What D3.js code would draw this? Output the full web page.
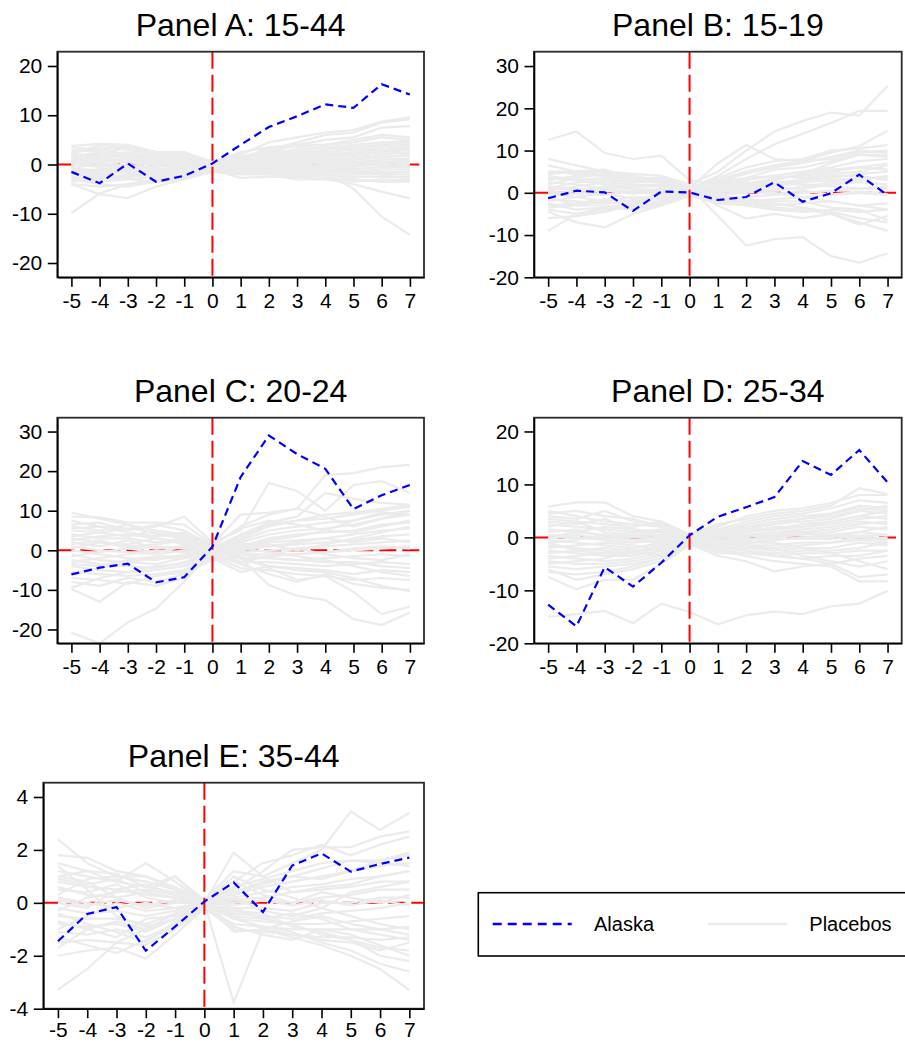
<!DOCTYPE html>
<html lang="en">
<head>
<meta charset="UTF-8">
<title>Placebo event-study panels</title>
<script src="https://d3js.org/d3.v7.min.js"></script>
<style>
  body { margin: 0; background: #fff; }
  svg { display: block; font-family: "Liberation Sans", Arial, sans-serif; }
  .axis text { font-size: 21px; fill: #000; }
  .axis line, .axis path { stroke: #000; stroke-width: 1.6px; }
</style>
</head>
<body>
<svg id="chart" width="905" height="1042"></svg>
<script>
const years = [-5, -4, -3, -2, -1, 0, 1, 2, 3, 4, 5, 6, 7];

const alaskaA = [-1.5, -3.8, 0.2, -3.5, -2.3, 0.2, 4.0, 7.6, 9.8, 12.2, 11.5, 16.3, 14.2];
const alaskaB = [-1.3, 0.5, 0.1, -4.3, 0.3, 0.1, -1.7, -1.0, 2.5, -2.1, -0.1, 4.3, -0.6];
const alaskaC = [-6.1, -4.4, -3.4, -8.1, -6.8, 0.9, 18.5, 29.0, 24.3, 20.6, 10.4, 13.9, 16.5];
const alaskaD = [-12.7, -16.8, -5.6, -9.3, -4.8, 0.4, 3.9, 5.7, 7.6, 14.4, 11.8, 16.5, 10.4];
const alaskaE = [-1.45, -0.42, -0.16, -1.81, -0.9, 0.05, 0.77, -0.35, 1.41, 1.87, 1.18, 1.47, 1.71];

const placebosA = [
  [3.8, 4.2, 4.0, 2.5, 1.5, 0.5, 2.0, 4.5, 5.5, 6.5, 7.0, 8.7, 9.6],
  [2.5, 3.5, 3.0, 2.0, 2.5, 0.3, 1.5, 3.0, 4.5, 6.0, 6.5, 8.5, 9.2],
  [1.5, 2.0, 2.5, 1.5, 1.0, -0.2, 1.0, 2.5, 4.0, 5.0, 5.5, 7.5, 7.8],
  [-1.0, 0.5, 1.0, 0.5, 0.0, 0.0, 1.0, 3.5, 4.0, 4.0, 4.5, 5.5, 5.0],
  [0.5, 1.0, 0.5, 0.0, -0.5, -0.3, 0.5, 2.0, 3.0, 3.5, 4.0, 4.5, 4.8],
  [-2.0, -1.5, -1.0, -1.5, -1.0, -0.5, 0.0, 1.0, 2.0, 3.0, 3.5, 4.0, 4.2],
  [2.0, 1.5, 2.0, 1.0, 1.8, 0.5, 0.5, 1.5, 2.5, 2.5, 3.0, 3.5, 3.8],
  [3.0, 2.5, 1.5, 1.5, 0.5, 0.2, 0.0, 1.0, 1.5, 2.0, 2.5, 3.0, 3.5],
  [-3.5, -3.0, -2.5, -2.0, -1.5, -0.8, -0.5, 0.5, 1.0, 1.5, 2.0, 2.5, 3.0],
  [1.0, 0.0, -1.0, -0.5, 0.5, 0.0, -0.5, 0.0, 0.5, 1.0, 1.5, 2.0, 2.5],
  [-1.5, -2.0, -2.5, -1.5, -1.0, -0.5, -1.0, -0.5, 0.0, 0.5, 1.0, 1.5, 2.0],
  [2.5, 3.0, 2.0, 1.0, 1.0, 0.5, 0.5, 0.5, 0.0, 0.5, 0.5, 1.0, 1.2],
  [-2.5, -3.5, -3.0, -2.5, -2.0, -1.0, -1.5, -1.0, -0.5, 0.0, 0.0, 0.5, 0.8],
  [0.0, -0.5, 0.0, -1.0, -1.5, -0.5, -1.0, -1.5, -1.0, -0.5, -0.5, 0.0, 0.0],
  [1.5, 1.0, 0.5, 0.0, 0.0, 0.2, -0.5, -1.0, -1.5, -1.0, -1.0, -0.5, -0.5],
  [-4.0, -4.5, -4.0, -3.0, -2.5, -1.2, -1.5, -2.0, -1.5, -1.5, -2.0, -1.5, -1.5],
  [-3.0, -4.0, -4.5, -3.5, -2.5, -1.0, -2.7, -2.5, -2.5, -2.0, -2.5, -2.5, -2.5],
  [-1.0, -2.5, -3.0, -3.5, -3.0, -1.5, -2.0, -2.0, -3.0, -3.0, -3.0, -3.5, -3.5],
  [-9.9, -5.9, -4.0, -3.5, -2.5, -1.0, -1.5, -1.5, -2.0, -2.5, -3.5, -3.0, -3.2],
  [-4.0, -6.0, -6.8, -4.5, -3.0, -1.2, -1.0, -1.5, -2.0, -2.0, -3.0, -3.5, -3.0],
  [0.5, 2.0, 3.5, 2.5, 2.5, 0.5, 1.0, 1.0, 1.5, 2.5, 2.0, 2.5, 3.0],
  [2.0, 4.0, 3.5, 2.5, 1.5, 0.8, 1.5, 2.0, 2.5, 3.0, 3.5, 4.0, 4.5],
  [-0.5, 1.5, 2.0, 1.5, 2.0, 0.3, 0.5, 0.0, -0.5, -1.0, -1.5, -1.0, -1.0],
  [-2.0, -1.0, -0.5, 0.5, 1.0, 0.0, 0.5, 1.0, 1.5, 1.0, 0.5, 0.5, 0.5],
  [1.0, 1.5, 1.0, 0.5, 1.5, 0.2, 0.0, -0.5, 0.0, -0.5, -1.0, -2.0, -1.5],
  [-2.5, -3.0, -2.0, -2.0, -1.5, -0.5, -1.0, -1.0, -1.5, -1.8, -4.9, -10.6, -14.3],
  [-1.5, -1.0, -1.5, -1.0, -0.5, -0.3, -1.0, -1.5, -2.5, -3.0, -4.0, -5.5, -6.9],
  [3.5, 3.0, 3.5, 2.0, 2.0, 0.5, 2.5, 3.5, 3.5, 4.0, 5.0, 6.0, 5.5],
  [-3.0, -2.0, -1.5, -2.5, -2.0, -0.8, -0.5, -0.5, -1.0, -1.5, -2.0, -2.0, -3.0],
  [0.0, 0.5, 1.5, 2.0, 1.0, 0.0, 1.5, 2.5, 3.0, 3.5, 3.0, 3.0, 2.0],
  [0.8, 0.3, -0.3, 0.2, 0.3, 0.1, 0.3, 0.6, 0.8, 1.2, 1.0, 1.5, 1.8],
  [-0.8, -1.2, -0.8, -0.3, -0.5, -0.1, -0.3, -0.2, 0.3, 0.2, 0.3, -0.2, 0.3],
  [1.8, 2.3, 1.5, 0.8, 0.3, 0.1, 0.8, 1.3, 2.0, 1.8, 2.2, 2.8, 3.2],
  [-1.8, -2.8, -2.0, -1.0, -0.8, -0.6, -0.3, -0.8, -0.7, -1.2, -1.5, -2.0, -2.0],
  [0.3, -0.3, 0.8, -0.2, -0.3, -0.2, -0.2, 0.3, -0.2, -0.2, -0.3, 0.2, -0.3]
];

const placebosB = [
  [12.5, 14.5, 9.4, 8.0, 8.8, 3.0, 2.0, 1.5, 3.0, 4.5, 5.5, 6.0, 7.0],
  [8.0, 6.5, 5.0, 4.5, 4.0, 2.0, 5.0, 10.0, 14.5, 17.0, 19.0, 18.3, 25.3],
  [6.5, 5.0, 5.5, 3.5, 3.0, 1.0, 4.0, 8.0, 11.5, 14.0, 16.5, 19.4, 19.4],
  [5.0, 4.5, 4.0, 3.5, 3.5, 1.0, 7.0, 11.3, 8.0, 7.5, 9.5, 11.0, 14.7],
  [4.5, 5.0, 4.0, 3.0, 2.5, 0.5, 3.5, 6.0, 7.5, 8.0, 10.0, 10.5, 11.3],
  [3.5, 3.0, 3.5, 2.5, 3.5, 1.5, 2.5, 4.5, 6.0, 7.0, 8.5, 10.0, 9.5],
  [2.5, 2.0, 1.0, 1.5, 2.0, 0.5, 2.0, 3.5, 5.5, 6.0, 7.5, 9.0, 8.5],
  [1.5, 0.5, 1.0, 0.0, 1.0, 0.0, 1.5, 3.0, 4.0, 5.0, 6.0, 7.5, 8.0],
  [0.5, 1.5, 2.5, 2.0, 1.5, 0.8, 1.0, 2.0, 3.5, 4.0, 5.0, 6.0, 5.5],
  [-1.0, 0.0, -0.5, 0.5, 0.0, 0.2, 0.5, 1.5, 2.5, 3.0, 3.5, 4.5, 5.0],
  [-2.0, -1.0, -2.0, -1.0, -1.5, 0.0, 0.0, 1.0, 1.5, 2.5, 3.0, 3.5, 3.5],
  [-3.0, -2.5, -1.5, -2.0, -1.0, -0.5, -0.5, 0.0, 1.0, 1.0, 2.0, 2.5, 2.0],
  [-4.0, -5.0, -4.0, -3.0, -2.0, -0.5, -1.0, -1.0, -0.5, 0.0, 0.5, 1.0, 1.0],
  [-9.0, -5.0, -3.5, -2.5, -2.0, -0.3, -1.5, -2.0, -1.5, -1.0, -0.5, 0.0, -0.5],
  [-4.5, -7.0, -8.2, -5.0, -3.0, -0.8, -2.0, -2.5, -3.0, -2.5, -2.0, -3.0, -2.5],
  [-3.5, -3.0, -3.0, -3.5, -2.5, -0.5, -2.5, -3.0, -4.0, -4.5, -4.0, -4.5, -4.0],
  [-6.0, -5.5, -4.5, -3.0, -2.5, 0.5, -3.0, -6.1, -5.0, -6.0, -5.0, -7.0, -9.0],
  [2.0, 3.5, 4.5, 4.0, 3.0, 1.5, -5.5, -12.5, -11.0, -10.5, -15.0, -16.5, -14.3],
  [0.0, -1.0, 0.0, -1.5, -0.5, 0.0, -1.0, -2.0, -2.5, -3.5, -4.5, -6.0, -7.0],
  [1.0, 2.5, 3.0, 2.5, 2.5, 1.0, 1.0, 0.5, 0.0, -1.0, -2.0, -3.0, -4.0],
  [-1.5, -2.0, -2.5, -2.0, -2.0, -0.2, -1.5, -2.5, -3.5, -4.0, -5.0, -7.5, -5.5],
  [3.0, 4.0, 4.5, 3.5, 3.0, 1.0, 3.0, 5.0, 6.5, 7.5, 8.0, 9.5, 10.0],
  [5.0, 5.0, 5.0, 4.0, 2.5, 1.2, 2.5, 3.5, 4.0, 3.5, 4.5, 5.0, 6.5],
  [-0.5, 0.5, 1.5, 1.0, 0.5, 0.3, 0.5, 1.0, 0.5, 1.5, 2.5, 3.0, 4.0],
  [4.0, 3.0, 2.0, 1.5, 1.5, 0.5, 1.5, 2.5, 2.0, 3.0, 4.0, 4.0, 3.0],
  [-2.5, -4.0, -3.5, -4.0, -3.0, -0.5, -0.5, -1.5, -2.0, -2.0, -3.5, -4.0, -6.5],
  [1.5, 1.0, 0.5, 0.5, -0.5, 0.5, 1.5, 2.0, 3.0, 4.5, 7.0, 9.0, 9.0],
  [-1.0, -3.0, -2.0, -3.0, -2.5, -0.3, 0.5, 1.0, 2.0, 2.0, 1.5, 1.0, 1.5],
  [0.3, -0.3, 0.5, -0.2, 0.4, 0.1, -0.3, 0.3, -0.3, 0.5, -0.4, 0.3, -0.3]
];

const placebosC = [
  [-20.8, -23.5, -18.2, -14.7, -7.9, 0.0, -2.0, -1.5, -1.0, -0.5, 0.5, 1.0, 0.5],
  [9.5, 8.0, 6.5, 5.0, 4.0, 1.0, 6.0, 9.0, 10.5, 8.5, 6.0, 8.0, 10.0],
  [8.5, 8.3, 7.0, 7.0, 6.5, 1.5, 9.0, 9.5, 10.5, 19.0, 19.5, 21.0, 21.6],
  [7.5, 6.0, 5.5, 6.0, 8.5, 2.0, 5.0, 17.0, 15.0, 10.0, 16.5, 17.5, 14.5],
  [6.0, 5.0, 6.5, 4.0, 3.0, 0.5, 4.0, 7.0, 8.5, 14.5, 13.0, 12.0, 11.5],
  [5.0, 4.5, 3.5, 5.0, 4.0, 0.0, 3.0, 6.0, 7.5, 8.0, 9.0, 10.0, 11.0],
  [4.0, 3.0, 3.0, 2.0, 3.0, 1.0, 2.5, 5.0, 6.0, 7.0, 7.5, 9.0, 10.0],
  [3.0, 2.0, 1.0, 1.5, 2.5, 0.5, 2.0, 4.0, 5.0, 5.5, 6.5, 8.0, 9.0],
  [2.0, 1.0, 2.5, 0.5, 1.0, -0.5, 1.0, 3.0, 4.0, 4.5, 5.0, 6.5, 7.0],
  [1.0, 0.0, -0.5, -1.0, 0.0, 0.0, 1.5, 2.0, 2.5, 3.0, 4.0, 5.0, 5.5],
  [0.0, -1.0, -2.0, -2.5, -1.0, -0.5, 0.0, 1.0, 1.5, 2.0, 2.5, 3.5, 4.0],
  [-1.0, -2.5, -3.0, -2.0, -2.0, -1.0, -0.5, 0.0, 0.5, 1.0, 1.5, 2.0, 2.5],
  [-2.5, -3.5, -4.0, -4.5, -3.0, -0.5, -1.0, -1.0, -1.0, -0.5, 0.0, 0.5, 1.0],
  [-4.0, -5.0, -5.5, -5.0, -4.0, -1.5, -2.0, -2.0, -2.5, -2.0, -1.5, -1.0, -1.5],
  [-5.5, -6.0, -6.5, -6.0, -5.0, -1.0, -3.0, -3.0, -3.5, -4.0, -3.5, -3.0, -3.5],
  [-8.0, -9.0, -7.0, -8.0, -6.0, -2.0, -5.5, -4.0, -4.5, -5.0, -6.0, -5.0, -5.5],
  [-9.8, -13.0, -8.0, -9.0, -7.0, -1.5, -4.5, -5.0, -6.0, -6.5, -7.5, -7.0, -7.5],
  [-7.0, -7.5, -8.5, -6.5, -5.5, -2.5, -2.0, -4.0, -5.0, -5.5, -7.0, -9.0, -10.3],
  [0.5, 2.0, 1.5, 3.0, 2.0, 0.5, -1.5, -4.5, -7.5, -6.5, -10.5, -16.1, -14.2],
  [2.5, 3.5, 4.0, 3.0, 1.5, 0.0, -2.0, -8.8, -11.5, -12.6, -17.4, -18.9, -15.7],
  [-3.0, -2.0, -1.0, 0.0, -0.5, -0.5, 0.5, -0.5, -1.5, -2.5, -4.0, -5.5, -6.5],
  [6.5, 7.0, 5.0, 6.5, 5.0, 1.0, 0.5, 1.0, 2.0, 3.0, 2.0, 3.0, 2.0],
  [-6.0, -4.5, -3.0, -3.5, -2.0, -1.0, 1.0, 2.5, 3.5, 5.0, 7.5, 9.5, 9.0],
  [3.5, 4.5, 5.5, 4.5, 3.5, 0.5, 3.5, 6.5, 7.5, 9.0, 9.5, 10.5, 11.5],
  [-1.5, -0.5, 0.5, 1.0, 0.5, 0.0, -1.0, -2.0, -2.5, -3.0, -3.0, -4.0, -4.5],
  [1.5, 2.5, 0.5, -0.5, 1.0, 0.5, 1.0, 1.5, 0.0, 1.5, 3.0, 4.5, 6.0],
  [-3.5, -4.0, -2.5, -1.5, -1.5, -0.5, -3.0, -1.5, 0.5, -1.0, -2.0, -2.5, -1.0],
  [5.5, 6.0, 4.5, 3.5, 4.5, 1.5, 5.5, 7.5, 6.5, 5.0, 4.5, 6.0, 7.5],
  [-9.5, -7.0, -5.5, -4.0, -3.5, -1.0, -3.5, -6.0, -8.0, -6.0, -8.5, -9.5, -10.0]
];

const placebosD = [
  [-15.0, -14.5, -13.9, -16.2, -12.5, -14.1, -16.4, -14.7, -14.0, -14.5, -13.0, -12.5, -10.1],
  [5.8, 6.6, 6.6, 4.0, 3.0, 0.5, 2.5, 3.5, 4.5, 5.0, 6.0, 9.3, 8.2],
  [4.5, 5.0, 4.0, 3.5, 2.0, 0.3, 2.0, 4.0, 5.0, 5.5, 6.5, 8.0, 8.0],
  [3.5, 3.0, 2.5, 2.0, 3.0, 0.5, 1.5, 3.0, 4.0, 4.5, 5.5, 7.0, 6.5],
  [2.5, 2.0, 1.5, 1.0, 1.5, 0.0, 1.0, 2.5, 3.5, 4.0, 4.5, 6.0, 5.5],
  [1.5, 1.0, 0.5, 0.0, 0.5, 0.0, 0.5, 1.5, 2.5, 3.0, 3.5, 5.0, 4.5],
  [0.5, 0.0, -0.5, -1.0, -0.5, -0.2, 0.0, 1.0, 1.5, 2.0, 3.0, 4.0, 3.5],
  [-0.5, -1.0, -1.5, -2.0, -1.5, -0.3, -0.5, 0.0, 1.0, 1.5, 2.0, 3.0, 2.5],
  [-1.5, -2.0, -2.5, -3.0, -2.0, -0.5, -1.0, -0.5, 0.0, 0.5, 1.0, 2.0, 1.5],
  [-2.5, -3.0, -3.5, -3.5, -2.5, -0.5, -1.5, -1.0, -0.5, 0.0, 0.0, 1.0, 0.5],
  [-3.5, -4.0, -4.5, -4.0, -3.0, -0.8, -2.0, -1.5, -1.5, -1.0, -1.0, 0.0, -0.5],
  [-4.5, -5.0, -5.0, -4.5, -3.5, -1.0, -2.5, -2.0, -2.5, -2.0, -2.0, -1.0, -1.5],
  [-5.5, -6.0, -5.5, -5.0, -4.0, -1.0, -3.0, -3.0, -3.5, -3.0, -3.0, -2.5, -2.5],
  [-6.5, -7.0, -6.5, -5.5, -4.0, -1.2, -3.5, -4.5, -6.4, -5.5, -5.0, -4.0, -3.5],
  [-7.5, -9.8, -8.0, -8.0, -5.0, -1.5, -2.5, -3.5, -4.5, -5.0, -5.5, -8.3, -8.3],
  [-6.0, -8.0, -7.0, -6.0, -4.5, -1.0, -2.0, -2.5, -3.5, -4.0, -5.0, -7.5, -7.0],
  [5.0, 4.0, 3.0, 2.5, 2.0, 0.3, 1.5, 2.0, 2.5, 3.5, 4.0, 5.0, 6.0],
  [4.0, 3.5, 5.0, 3.0, 2.5, 0.5, 1.0, 1.5, 1.5, 2.5, 3.0, 4.0, 5.0],
  [2.0, 3.0, 1.0, 0.5, 1.0, 0.2, 0.0, 0.5, 1.0, 1.0, 1.5, 2.5, 3.0],
  [0.0, 1.0, 2.0, 1.5, 0.0, 0.0, -0.5, -1.0, -0.5, 0.0, 0.5, 1.0, 2.0],
  [-1.0, -0.5, 0.5, -0.5, -1.0, -0.2, -1.0, -1.5, -2.0, -1.5, -1.0, -0.5, 0.0],
  [-2.0, -1.5, -1.0, -1.5, -2.5, -0.5, -2.0, -2.5, -3.0, -2.5, -2.5, -2.0, -1.0],
  [-3.0, -2.5, -2.0, -2.5, -3.5, -0.8, -2.5, -3.0, -3.5, -4.0, -3.5, -3.5, -2.5],
  [-4.0, -3.5, -3.0, -3.5, -1.5, -0.5, -1.5, -2.0, -2.0, -3.5, -4.5, -5.5, -4.5],
  [-5.0, -4.5, -4.0, -2.5, -2.0, -0.3, -0.5, -1.0, -1.0, -2.0, -3.0, -4.5, -6.0],
  [3.0, 2.5, 3.5, 1.5, 1.0, 0.2, 0.5, 1.0, 2.0, 2.0, 2.5, 3.5, 4.0],
  [1.0, 1.5, 0.0, -0.5, 0.0, 0.0, 1.0, 2.0, 3.0, 3.5, 4.5, 5.5, 5.0],
  [-1.0, -2.5, -3.0, -2.0, -1.0, -0.3, -0.5, -0.5, 0.5, 1.0, 0.5, -0.5, -1.0],
  [0.3, -0.3, 0.3, 0.5, 0.3, 0.1, 0.3, 0.3, 0.3, 0.7, 0.2, 0.3, 0.5],
  [-0.3, 0.5, -0.3, 0.2, -0.3, -0.1, 0.0, -0.3, -0.2, -0.3, -0.3, 0.3, -0.3]
];

const placebosE = [
  [2.4, 1.5, 1.0, 0.8, 0.5, 0.0, 1.9, 1.0, 1.5, 2.0, 3.45, 2.75, 3.4],
  [1.8, 1.7, 1.2, 1.0, 0.6, 0.1, 0.5, 1.2, 2.0, 2.1, 2.1, 2.5, 2.7],
  [1.2, 1.0, 0.8, 1.5, 0.8, 0.0, 0.8, 1.5, 1.8, 2.2, 1.8, 2.2, 2.5],
  [1.0, 1.2, 1.1, 0.6, 1.0, 0.0, 0.6, 0.9, 1.2, 1.5, 1.6, 1.6, 1.8],
  [0.8, 0.6, 0.5, 0.3, 0.2, 0.1, 0.3, 0.6, 0.8, 1.0, 1.2, 1.4, 1.5],
  [0.5, 0.4, 0.7, 0.2, 0.0, 0.0, 0.2, 0.4, 0.6, 0.7, 0.9, 1.0, 1.2],
  [0.2, 0.0, -0.2, 0.0, -0.2, 0.0, 0.1, 0.2, 0.4, 0.5, 0.6, 0.8, 0.8],
  [-0.2, -0.4, -0.3, -0.5, -0.3, 0.0, 0.0, 0.1, 0.0, 0.2, 0.3, 0.5, 0.5],
  [-0.5, -0.6, -0.6, -0.8, -0.4, -0.1, -0.2, -0.2, -0.3, 0.0, 0.0, 0.2, 0.2],
  [-0.8, -0.9, -0.8, -1.1, -0.6, -0.1, -0.4, -0.5, -0.6, -0.4, -0.3, -0.2, 0.0],
  [-1.1, -1.2, -1.0, -1.3, -0.8, -0.1, -0.6, -0.7, -0.8, -0.8, -0.7, -0.6, -0.5],
  [-1.5, -1.4, -1.5, -1.6, -1.0, -0.2, -0.8, -0.9, -1.0, -1.0, -1.0, -1.0, -0.9],
  [-2.0, -1.8, -1.7, -2.1, -1.2, -0.2, -1.0, -1.1, -1.2, -1.3, -1.3, -1.4, -1.3],
  [-3.28, -2.5, -1.5, -1.0, -0.6, 0.0, -3.76, -1.0, -1.2, -1.4, -1.5, -1.8, -1.5],
  [1.5, 1.2, 0.8, 0.6, 0.4, 0.1, -0.5, -1.0, -1.3, -1.6, -2.0, -2.5, -3.3],
  [0.6, 0.3, 0.2, -0.2, 0.0, 0.0, -0.6, -0.9, -1.1, -1.5, -1.8, -2.3, -2.6],
  [-0.3, 0.2, 0.4, 0.5, 0.3, 0.0, -0.5, -0.6, -0.8, -1.2, -1.4, -1.7, -1.8],
  [1.0, 0.8, 0.2, 0.4, 1.0, 0.1, 1.2, 1.0, 0.4, 0.6, 0.7, 1.0, 1.2],
  [-1.0, -0.5, 0.0, -0.3, -0.2, 0.0, -1.1, -1.0, -0.7, -0.5, -0.8, -1.0, -1.2],
  [0.3, 0.9, 1.0, 1.0, 0.5, 0.0, 1.0, 0.5, 0.2, -0.2, -0.5, -0.8, -1.0],
  [-0.7, -1.0, -1.3, -0.6, -0.5, -0.1, 0.4, 0.7, 1.0, 1.3, 1.6, 1.5, 1.4],
  [1.4, 0.5, -0.5, -0.9, -0.6, 0.0, 0.2, -0.3, -0.5, -0.2, 0.4, 0.6, 0.8],
  [-1.3, -1.6, -1.9, -1.4, -0.9, -0.1, -0.3, -0.4, -0.9, -1.1, -1.4, -2.0, -2.2],
  [0.0, -0.2, 0.5, 0.7, 0.3, 0.0, 0.8, 0.3, 0.0, 0.4, 0.2, 0.0, 0.3],
  [-0.4, -0.8, -1.1, -1.5, -0.7, -0.1, -0.2, -0.6, -0.4, -0.6, -1.0, -1.2, -1.4],
  [0.9, 0.7, 0.9, 0.4, 0.2, 0.0, 0.4, 0.8, 1.0, 0.9, 1.2, 1.6, 1.9],
  [-1.7, -1.0, -0.7, -1.0, -0.4, 0.0, -0.9, -1.2, -1.4, -1.0, -1.2, -1.6, -2.0],
  [0.1, -0.1, 0.1, -0.1, 0.1, 0.0, -0.1, 0.1, -0.1, 0.1, -0.1, 0.1, -0.1]
];

const titles = ["Panel A: 15-44", "Panel B: 15-19", "Panel C: 20-24", "Panel D: 25-34", "Panel E: 35-44"];
const yTicksA = [-20, -10, 0, 10, 20];
const yTicksB = [-20, -10, 0, 10, 20, 30];
const yTicksE = [-4, -2, 0, 2, 4];
const legendLabels = ["Alaska", "Placebos"];

// plot boxes [left, top, right, bottom], y ranges, x label padding per panel
const panels = [
  { title: titles[0], alaska: alaskaA, placebos: placebosA, yDom: [-22.9, 22.9], yTicks: yTicksA, box: [57.3, 51.7, 424, 277.3], xPad: 6.5 },
  { title: titles[1], alaska: alaskaB, placebos: placebosB, yDom: [-20, 33.4], yTicks: yTicksB, box: [534, 51.7, 901.7, 277.3], xPad: 6.5 },
  { title: titles[2], alaska: alaskaC, placebos: placebosC, yDom: [-23.5, 33.5], yTicks: yTicksB, box: [57.3, 417.7, 424, 643.3], xPad: 6.5 },
  { title: titles[3], alaska: alaskaD, placebos: placebosD, yDom: [-20, 22.6], yTicks: yTicksA, box: [534, 417.7, 901.7, 643.3], xPad: 6.5 },
  { title: titles[4], alaska: alaskaE, placebos: placebosE, yDom: [-4, 4.54], yTicks: yTicksE, box: [43.3, 782.7, 424, 1008.7], xPad: 3.5 }
];

const svg = d3.select("#chart");
const gray = "#ebebeb";
const plain = d => String(d);   // hyphen-minus, as in the original

panels.forEach((p, i) => {
  const [x0, y0, x1, y1] = p.box;
  const x = d3.scaleLinear().domain([-5.5, 7.5]).range([x0, x1]);
  const y = d3.scaleLinear().domain(p.yDom).range([y1, y0]);
  const line = d3.line().x((d, j) => x(years[j])).y(d => y(d));

  svg.append("clipPath").attr("id", "clip" + i)
    .append("rect").attr("x", x0).attr("y", y0).attr("width", x1 - x0).attr("height", y1 - y0);

  const g = svg.append("g").attr("clip-path", `url(#clip${i})`);

  g.append("line")
    .attr("x1", x0).attr("x2", x1).attr("y1", y(0)).attr("y2", y(0))
    .attr("stroke", "#ff0000").attr("stroke-width", 2).attr("stroke-dasharray", "17,6");

  g.selectAll(".placebo").data(p.placebos).enter().append("path")
    .attr("d", line)
    .attr("fill", "none").attr("stroke", gray).attr("stroke-width", 2.2);

  g.append("line")
    .attr("x1", x(0)).attr("x2", x(0)).attr("y1", y0).attr("y2", y1)
    .attr("stroke", "#ff0000").attr("stroke-width", 2).attr("stroke-dasharray", "17,6");

  g.append("path").datum(p.alaska)
    .attr("d", line)
    .attr("fill", "none").attr("stroke", "#0000ff").attr("stroke-width", 2.2)
    .attr("stroke-dasharray", "8,5");

  svg.append("rect")
    .attr("x", x0).attr("y", y0).attr("width", x1 - x0).attr("height", y1 - y0)
    .attr("fill", "none").attr("stroke", "#2b2b2b").attr("stroke-width", 1.8);

  svg.append("g").attr("class", "axis")
    .attr("transform", `translate(${x0},0)`)
    .call(d3.axisLeft(y).tickValues(p.yTicks).tickFormat(plain).tickSize(9.5).tickSizeOuter(0).tickPadding(5.5));

  svg.append("g").attr("class", "axis")
    .attr("transform", `translate(0,${y1})`)
    .call(d3.axisBottom(x).tickValues(years).tickFormat(plain).tickSize(9.5).tickSizeOuter(0).tickPadding(p.xPad));

  svg.append("text")
    .attr("x", (x0 + x1) / 2).attr("y", y0 - 16)
    .attr("text-anchor", "middle")
    .style("font-size", "32px")
    .text(p.title);
});

// legend
const leg = svg.append("g");
leg.append("rect")
  .attr("x", 478.3).attr("y", 892.7).attr("width", 440).attr("height", 63.3)
  .attr("fill", "#fff").attr("stroke", "#000").attr("stroke-width", 1.6);
leg.append("line")
  .attr("x1", 492.7).attr("x2", 571.7).attr("y1", 924).attr("y2", 924)
  .attr("stroke", "#0000ff").attr("stroke-width", 2.4).attr("stroke-dasharray", "9,6");
leg.append("text").attr("x", 594).attr("y", 931).style("font-size", "20px").text(legendLabels[0]);
leg.append("line")
  .attr("x1", 707.7).attr("x2", 787.3).attr("y1", 924).attr("y2", 924)
  .attr("stroke", gray).attr("stroke-width", 2.4);
leg.append("text").attr("x", 809.3).attr("y", 931).style("font-size", "20px").text(legendLabels[1]);
</script>
</body>
</html>
